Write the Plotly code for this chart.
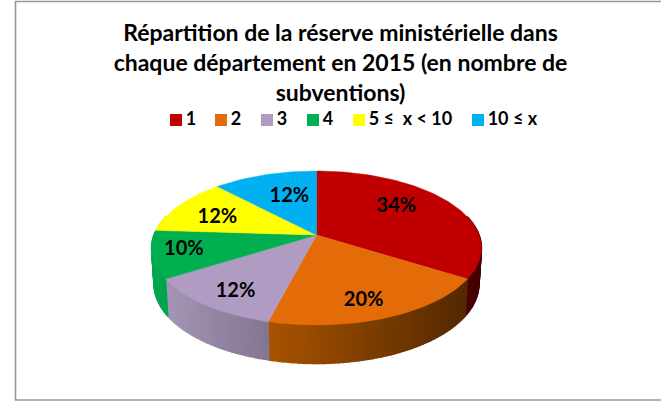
import math
import plotly.graph_objects as go

# ---- data ----
categories = ["1", "2", "3", "4", "5 ≤  x < 10", "10 ≤ x"]
shares = [34, 20, 12, 10, 12, 12]
colors = ["#C00000", "#E36C09", "#B09CC2", "#00B050", "#FFFF00", "#00B0F0"]
side_rgb = [(200, 0, 0), (228, 112, 0), (176, 160, 194), (0, 176, 80), (255, 255, 0), (0, 176, 240)]
label_radius = [0.68, 0.79, 0.79, 0.81, 0.69, 0.62]
label_angle = [50.8, 161.3, 214.1, 258.0, 292.6, 342.8]
title_lines = ["Répartition de la réserve ministérielle dans",
               "chaque département en 2015 (en nombre de",
               "subventions)"]

# ---- layout / projection constants (pixel space) ----
W, H = 661, 401
CX, CY = 316.5, 235.0
A, B, K = 74.8, 162.6, -0.169
FONT = "Lato"
LABEL_DY = 2


def project(r, deg):
    t = math.radians(deg)
    u, w = r * math.sin(t), -r * math.cos(t)
    d = 1 + K * w
    return CX + B * u / d, CY + A * w / d


def project_low(deg):
    x, y = project(1, deg)
    w = -math.cos(math.radians(deg))
    return CX + (x - CX) * 0.985, y + 35.5 + 3 * w


fig = go.Figure()
total = sum(shares)
bounds = [0]
for s in shares:
    bounds.append(bounds[-1] + 360 * s / total)

# side wall, drawn as thin quads so its horizontal shading can vary
for i in range(len(shares)):
    a0, a1 = max(bounds[i], 75), min(bounds[i + 1], 285)
    if a1 <= a0:
        continue
    n = max(1, int((a1 - a0) / 1.5))
    for j in range(n):
        p0 = a0 + (a1 - a0) * j / n
        p1 = a0 + (a1 - a0) * (j + 1) / n
        top0, top1 = project(1, p0), project(1, p1)
        low0, low1 = project_low(p0), project_low(p1)
        xm = (top0[0] + top1[0]) / 2
        f = max(0.33, min(0.95, 0.93 - 0.56 * (xm - 169) / 296))
        c = "rgb(%d,%d,%d)" % tuple(int(v * f) for v in side_rgb[i])
        fig.add_trace(go.Scatter(
            x=[top0[0], top1[0], low1[0], low0[0], top0[0]],
            y=[top0[1], top1[1], low1[1], low0[1], top0[1]],
            mode="lines", fill="toself", fillcolor=c,
            line=dict(color=c, width=1.4), hoverinfo="skip", showlegend=False))

# top face
for i, name in enumerate(categories):
    steps = max(2, int((bounds[i + 1] - bounds[i]) / 1.5))
    pts = [project(1, bounds[i] + (bounds[i + 1] - bounds[i]) * j / steps) for j in range(steps + 1)]
    xs = [CX] + [p[0] for p in pts] + [CX]
    ys = [CY] + [p[1] for p in pts] + [CY]
    fig.add_trace(go.Scatter(x=xs, y=ys, mode="lines", fill="toself", fillcolor=colors[i],
                             line=dict(color=colors[i], width=0.5), name=name,
                             hoverinfo="name", showlegend=False))

# percent labels
lab = [project(r, a) for r, a in zip(label_radius, label_angle)]
fig.add_trace(go.Scatter(
    x=[p[0] for p in lab], y=[p[1] + LABEL_DY for p in lab], mode="text",
    text=["%d%%" % s for s in shares],
    textfont=dict(family=FONT, size=20, color="#000000", weight="bold"),
    textposition="middle center", hoverinfo="skip", showlegend=False))

# legend row
LEG_X = [176, 221, 267, 313, 359, 478]
LEG_Y = 120
for x, name, c in zip(LEG_X, categories, colors):
    fig.add_trace(go.Scatter(
        x=[x], y=[LEG_Y], mode="markers+text", text=["\u200a" + name],
        textposition="middle right",
        marker=dict(symbol="square", size=12, color=c),
        textfont=dict(family=FONT, size=18, color="#000000", weight="bold"),
        hoverinfo="skip", showlegend=False))

fig.update_layout(
    width=W, height=H, autosize=False,
    margin=dict(l=0, r=0, t=0, b=0),
    paper_bgcolor="white", plot_bgcolor="white",
    title=dict(text="<br>".join(title_lines), x=340.5 / W, xanchor="center",
               y=1 - 41 / H, yanchor="top",
               font=dict(family=FONT, size=23, color="#000000", weight="bold")),
    xaxis=dict(range=[0, W], visible=False, fixedrange=True),
    yaxis=dict(range=[H, 0], visible=False, fixedrange=True),
    shapes=[dict(type="rect", xref="x", yref="y", x0=15.5, y0=1.5, x1=W + 5, y1=400,
                 line=dict(color="#969696", width=1.6), layer="below")],
)
fig.write_html("out.html", config=dict(displayModeBar=False),
               post_script="document.body.style.margin='0';document.documentElement.style.overflow='hidden';")
